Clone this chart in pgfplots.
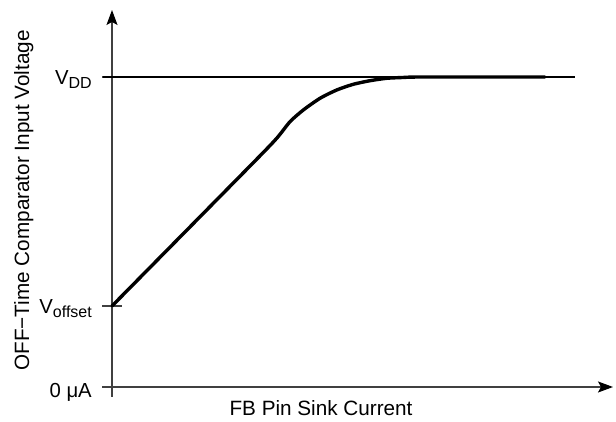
\documentclass[border=0pt]{standalone}
\usepackage{pgfplots}
\pgfplotsset{compat=1.18}
\usetikzlibrary{arrows.meta}
\usepackage{fontspec}
\setmainfont{Liberation Sans}
\newcommand{\sub}[1]{\raisebox{-4pt}{\fontsize{16}{16}\selectfont #1}}
\begin{document}
\begin{tikzpicture}
\path[use as bounding box] (0,0) rectangle (616pt,422pt);
\begin{axis}[
  at={(103pt,25pt)}, anchor=south west,
  x=1pt, y=1pt,
  xmin=-9, xmax=501, ymin=-10, ymax=377,
  axis lines=middle,
  axis line style={draw=black!75, line width=1.3pt, -{Stealth[length=15pt,width=11pt,inset=3pt,color=black]}},
  xtick=\empty,
  ytick={0,81,310},
  hide obscured y ticks=false,
  yticklabels={\raisebox{-3.5pt}{0 μA}, V\sub{offset}, V\sub{DD}},
  tick align=center,
  major tick length=20pt,
  tick style={draw=black!75, line width=1.1pt},
  yticklabel style={anchor=base east, font=\fontsize{20.3}{22}\selectfont, inner sep=0pt, xshift=-10pt, yshift=-7.2pt},
  xlabel={FB Pin Sink Current},
  ylabel={OFF−Time Comparator Input Voltage},
  label style={font=\fontsize{20.7}{22}\selectfont},
  xlabel style={at={(axis description cs:0.4275,-0.0483)}, anchor=base},
  ylabel style={at={(axis description cs:-0.145,0.508)}, rotate=90, anchor=base},
  clip=false,
]
\addplot[black, line width=1.3pt] coordinates {(-9,310) (463,310)};
\addplot[black, line width=3.4pt, line cap=round, line join=round, smooth, tension=0.4] coordinates {
  (0,81) (140,223) (164.7,248.7) (178,265.3) (191.3,277) (208,288.7) (224.7,297)
  (241.3,302.7) (258,306.3) (274.7,308.7) (291,309.5) (310,310) (433,310)
};
\end{axis}
\end{tikzpicture}
\end{document}
